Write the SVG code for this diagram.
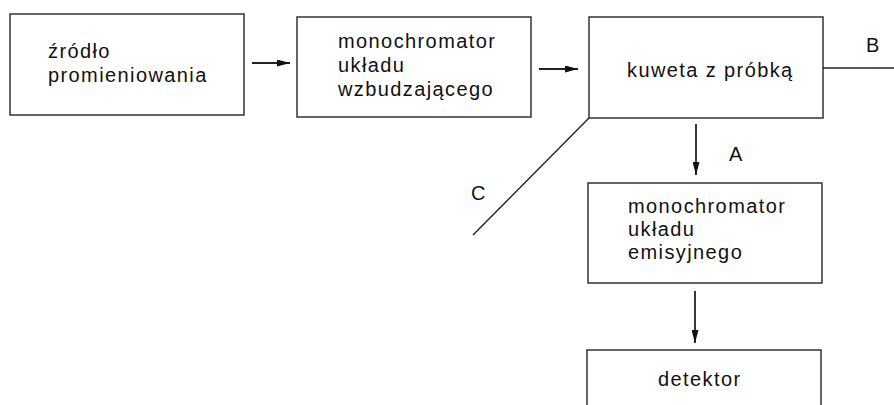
<svg xmlns="http://www.w3.org/2000/svg" width="894" height="405" viewBox="0 0 894 405">
<defs>
<marker id="ah" viewBox="0 0 13 7" refX="13" refY="3.5" markerWidth="13" markerHeight="7" markerUnits="userSpaceOnUse" orient="auto"><path d="M0,0 L13,3.5 L0,7 z" fill="#111"/></marker>
</defs>
<style>
.box{fill:#fff;stroke:#333;stroke-width:1.5}
.t{font-family:"Liberation Sans",Arial,sans-serif;font-size:20px;letter-spacing:1.4px;fill:#111}
.c{stroke:#222;stroke-width:1.4;fill:none}
.a{stroke-width:1.8;marker-end:url(#ah)}
</style>
<rect width="894" height="405" fill="#fff"/>
<g id="zrodlo"><rect class="box" x="10" y="14" width="234" height="101"/>
<text class="t" x="48" y="58">źródło</text><text class="t" x="48" y="82">promieniowania</text></g>
<g id="mono1"><rect class="box" x="297" y="17" width="234" height="100"/>
<text class="t" x="338" y="48">monochromator</text><text class="t" x="338" y="72">układu</text><text class="t" x="338" y="96">wzbudzającego</text></g>
<g id="kuweta"><rect class="box" x="589" y="17" width="234" height="101"/>
<text class="t" x="627" y="77">kuweta z próbką</text></g>
<g id="mono2"><rect class="box" x="588" y="183" width="234" height="100"/>
<text class="t" x="628" y="213">monochromator</text><text class="t" x="628" y="236">układu</text><text class="t" x="628" y="259">emisyjnego</text></g>
<g id="detektor"><rect class="box" x="587" y="350" width="234" height="80"/>
<text class="t" x="658" y="386">detektor</text></g>
<g id="connectors">
<line class="c a" x1="252" y1="63" x2="290" y2="63"/>
<line class="c a" x1="539" y1="69" x2="578" y2="69"/>
<line class="c a" x1="696" y1="124" x2="696" y2="175"/>
<line class="c a" x1="695" y1="291" x2="695" y2="343"/>
<line class="c" x1="823" y1="68" x2="894" y2="68"/>
<line class="c" x1="589" y1="118" x2="473" y2="235"/>
</g>
<text class="t" x="866" y="52">B</text>
<text class="t" x="729" y="161">A</text>
<text class="t" x="471" y="200">C</text>
</svg>
